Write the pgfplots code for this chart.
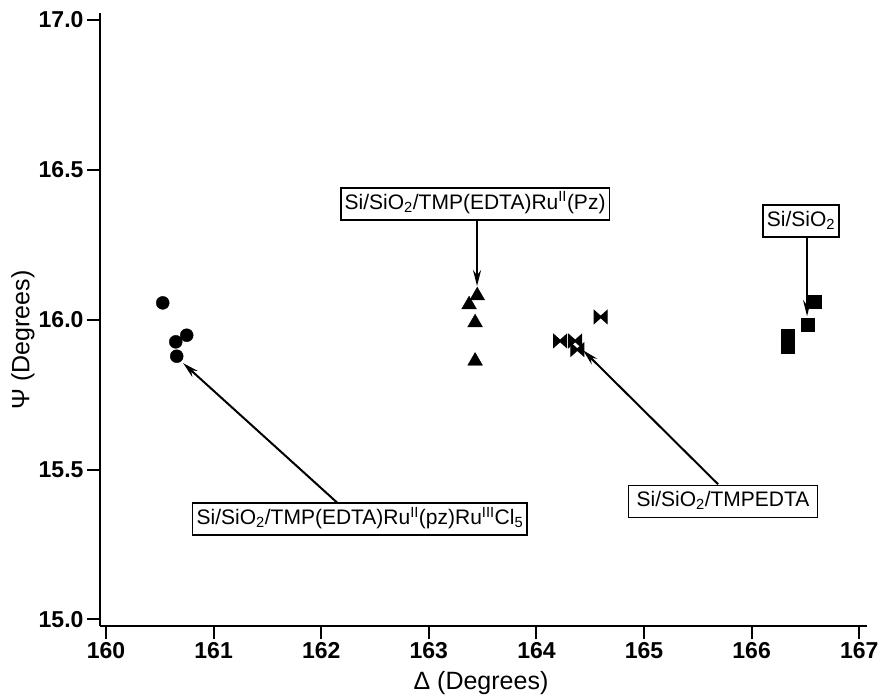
\documentclass[border=0pt]{standalone}
\usepackage{fontspec}
\setmainfont{Liberation Sans}
\usepackage{pgfplots}
\pgfplotsset{compat=1.18}
\usetikzlibrary{arrows.meta}

% filled bow-tie mark: two triangles meeting at the centre
\pgfdeclareplotmark{bowtie*}{%
  \pgfpathmoveto{\pgfqpoint{-\pgfplotmarksize}{\pgfplotmarksize}}%
  \pgfpathlineto{\pgfqpoint{-0.05\pgfplotmarksize}{0.15\pgfplotmarksize}}%
  \pgfpathlineto{\pgfqpoint{-0.05\pgfplotmarksize}{-0.15\pgfplotmarksize}}%
  \pgfpathlineto{\pgfqpoint{-\pgfplotmarksize}{-\pgfplotmarksize}}%
  \pgfpathclose
  \pgfpathmoveto{\pgfqpoint{\pgfplotmarksize}{\pgfplotmarksize}}%
  \pgfpathlineto{\pgfqpoint{0.05\pgfplotmarksize}{0.15\pgfplotmarksize}}%
  \pgfpathlineto{\pgfqpoint{0.05\pgfplotmarksize}{-0.15\pgfplotmarksize}}%
  \pgfpathlineto{\pgfqpoint{\pgfplotmarksize}{-\pgfplotmarksize}}%
  \pgfpathclose
  \pgfusepathqfillstroke}

\tikzset{lbl/.style={draw, line width=1.6pt, fill=white, inner xsep=4pt, inner ysep=0pt,
    minimum height=32pt, text height=16pt, text depth=5pt,
    font=\fontsize{21}{21}\selectfont},
  pointer/.style={line width=2pt, -{Stealth[length=16pt,width=8pt]}}}

\begin{document}
\begin{tikzpicture}
\begin{axis}[name=ax, at={(0,0)}, anchor=south west,
  scale only axis, width=767pt, height=613pt,
  xmin=159.944, xmax=167.072, ymin=14.978, ymax=17.023,
  axis lines*=left, axis line style={-, line width=2pt},
  tick align=outside, major tick length=13pt,
  tick style={line width=2pt, black},
  xtick={160,161,...,167}, ytick={15,15.5,...,17},
  /pgf/number format/assume math mode=true,
  ticklabel style={font=\bfseries\fontsize{23}{23}\selectfont},
  yticklabel style={/pgf/number format/.cd, fixed, fixed zerofill, precision=1},
  xlabel={Δ (Degrees)}, ylabel={Ψ (Degrees)},
  label style={font=\fontsize{25}{25}\selectfont},
  xlabel style={at={(axis description cs:0.4967,-0.093)}, anchor=center},
  ylabel style={at={(axis description cs:-0.1004,0.4666)}, anchor=center},
  clip=false]

% Si/SiO2/TMP(EDTA)Ru(II)(pz)Ru(III)Cl5
\addplot[only marks, mark=*, mark size=6.5pt, black] coordinates {
  (160.527,16.056) (160.750,15.948) (160.648,15.926) (160.657,15.878)};
% Si/SiO2/TMP(EDTA)Ru(II)(Pz)
\addplot[only marks, mark=triangle*, mark size=8.5pt, black] coordinates {
  (163.450,16.080) (163.374,16.050) (163.430,15.990) (163.430,15.862)};
% Si/SiO2/TMPEDTA
\addplot[only marks, mark=bowtie*, mark size=6.5pt, black, line width=1pt] coordinates {
  (164.597,16.009) (164.220,15.929) (164.360,15.929) (164.380,15.900)};
% Si/SiO2
\addplot[only marks, mark=square*, mark size=6.5pt, black] coordinates {
  (166.589,16.059) (166.520,15.984) (166.335,15.948) (166.335,15.909)};

\node[lbl] at (axis cs:162.36,15.334)
  {Si/SiO\textsubscript{2}/TMP(EDTA)Ru\textsuperscript{II}(pz)Ru\textsuperscript{III}Cl\textsubscript{5}};
\draw[pointer] (axis cs:162.156,15.387) -- (axis cs:160.716,15.855);

\node[lbl] at (axis cs:163.43,16.386)
  {Si/SiO\textsubscript{2}/TMP(EDTA)Ru\textsuperscript{II}(Pz)};
\draw[pointer] (axis cs:163.448,16.332) -- (axis cs:163.448,16.112);

\node[lbl, inner xsep=8pt] at (axis cs:165.734,15.394) {Si/SiO\textsubscript{2}/TMPEDTA};
\draw[pointer] (axis cs:165.688,15.451) -- (axis cs:164.433,15.898);

\node[lbl] at (axis cs:166.459,16.329) {Si/SiO\textsubscript{2}};
\draw[pointer] (axis cs:166.515,16.274) -- (axis cs:166.515,16.012);
\end{axis}
\pgfresetboundingbox
\path (ax.south west) ++(-100pt,-71pt) rectangle ++(879pt,697pt);
\end{tikzpicture}
\end{document}
